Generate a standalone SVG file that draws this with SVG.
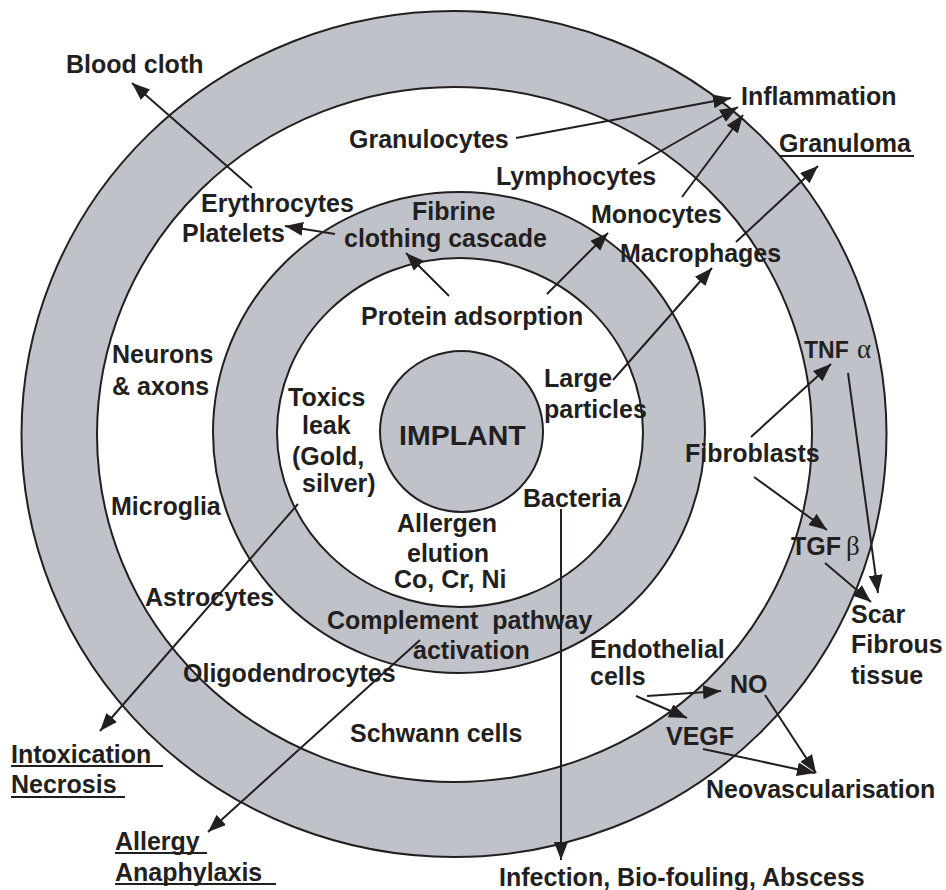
<svg xmlns="http://www.w3.org/2000/svg" width="946" height="890" viewBox="0 0 946 890">
<style>
.t{font-family:"Liberation Sans",Arial,sans-serif;font-weight:bold;font-size:25px;fill:#231f20}
.g{font-family:"Liberation Serif","Times New Roman",serif;font-size:27px;fill:#231f20}
.ring{fill:#c0c2c9;stroke:#231f20;stroke-width:2}
.hole{fill:#ffffff;stroke:#231f20;stroke-width:2}
.a{stroke:#231f20;stroke-width:2;fill:none;marker-end:url(#ah)}
.u{stroke:#231f20;stroke-width:2}
</style>
<defs>
<marker id="ah" markerUnits="userSpaceOnUse" markerWidth="20" markerHeight="16" refX="18" refY="7" orient="auto">
<path d="M0,0 L18,7 L0,14 Z" fill="#231f20"/>
</marker>
</defs>
<rect width="946" height="890" fill="#ffffff"/>
<g id="rings">
<ellipse id="outer-ring" class="ring" cx="454" cy="434" rx="432.5" ry="423"/>
<ellipse class="hole" cx="454.5" cy="434.5" rx="357.5" ry="347.5"/>
<ellipse id="middle-ring" class="ring" cx="459" cy="432.5" rx="246" ry="240.5"/>
<ellipse class="hole" cx="460" cy="432.5" rx="183" ry="174.5"/>
</g>
<g id="implant">
<ellipse class="ring" cx="461.5" cy="431.5" rx="81.5" ry="80.5"/>
<text class="t" x="399" y="445" style="font-size:28.5px">IMPLANT</text>
</g>
<g id="connectors">
<line class="a" x1="252" y1="188" x2="132" y2="83"/>
<line class="a" x1="335" y1="234" x2="285" y2="226"/>
<line class="a" x1="449" y1="296" x2="406" y2="253"/>
<line class="a" x1="516" y1="138" x2="731" y2="98"/>
<line class="a" x1="638" y1="164" x2="738" y2="107"/>
<line class="a" x1="682" y1="197" x2="743" y2="115"/>
<line class="a" x1="736" y1="242" x2="818" y2="166"/>
<line class="a" x1="547" y1="294" x2="608" y2="233"/>
<line class="a" x1="613" y1="380" x2="712" y2="268"/>
<line class="a" x1="751" y1="437" x2="831" y2="364"/>
<line class="a" x1="754" y1="477" x2="827" y2="530"/>
<line class="a" x1="848" y1="373" x2="878" y2="593"/>
<line class="a" x1="825" y1="563" x2="871" y2="602"/>
<line class="a" x1="561" y1="509" x2="561" y2="860"/>
<line class="a" x1="298" y1="504" x2="100" y2="731"/>
<line class="a" x1="420" y1="640" x2="208" y2="832"/>
<line class="a" x1="647" y1="696" x2="721" y2="691"/>
<line class="a" x1="636" y1="696" x2="687" y2="718"/>
<line class="a" x1="765" y1="695" x2="816" y2="773"/>
<line class="a" x1="703" y1="749" x2="815" y2="773"/>
</g>
<g id="outcomes">
<text class="t" x="66" y="73">Blood cloth</text>
<text class="t" x="741" y="105">Inflammation</text>
<text class="t" x="779" y="152">Granuloma</text>
<line class="u" x1="779" y1="156" x2="914" y2="156"/>
<text class="t" x="851" y="623">Scar</text>
<text class="t" x="851" y="653">Fibrous</text>
<text class="t" x="851" y="684">tissue</text>
<text class="t" x="706" y="798">Neovascularisation</text>
<text class="t" x="499" y="886">Infection, Bio-fouling, Abscess</text>
<text class="t" x="11" y="763">Intoxication</text>
<line class="u" x1="11" y1="766" x2="163" y2="766"/>
<text class="t" x="11" y="793">Necrosis</text>
<line class="u" x1="11" y1="797" x2="125" y2="797"/>
<text class="t" x="115" y="850">Allergy</text>
<line class="u" x1="115" y1="853" x2="207" y2="853"/>
<text class="t" x="115" y="881">Anaphylaxis</text>
<line class="u" x1="115" y1="884" x2="276" y2="884"/>
</g>
<g id="outer-zone">
<text class="t" x="349" y="148">Granulocytes</text>
<text class="t" x="496" y="185">Lymphocytes</text>
<text class="t" x="591" y="223">Monocytes</text>
<text class="t" x="620" y="262">Macrophages</text>
<text class="t" x="201" y="212">Erythrocytes</text>
<text class="t" x="182" y="242">Platelets</text>
<text class="t" x="112" y="363">Neurons</text>
<text class="t" x="112" y="395">&amp; axons</text>
<text class="t" x="111" y="515">Microglia</text>
<text class="t" x="145" y="606">Astrocytes</text>
<text class="t" x="183" y="682">Oligodendrocytes</text>
<text class="t" x="350" y="742">Schwann cells</text>
<text class="t" x="685" y="462">Fibroblasts</text>
<text class="t" x="804" y="358" style="font-size:23px">TNF</text><text class="g" x="857" y="358">α</text>
<text class="t" x="791" y="555">TGF</text><text class="g" x="846" y="555">β</text>
<text class="t" x="590" y="658">Endothelial</text>
<text class="t" x="590" y="685">cells</text>
<text class="t" x="730" y="693">NO</text>
<text class="t" x="666" y="745">VEGF</text>
</g>
<g id="middle-zone">
<text class="t" x="412" y="220">Fibrine</text>
<text class="t" x="344" y="247">clothing cascade</text>
<text class="t" x="327" y="629" xml:space="preserve">Complement  pathway</text>
<text class="t" x="413" y="659">activation</text>
</g>
<g id="inner-zone">
<text class="t" x="361" y="325">Protein adsorption</text>
<text class="t" x="288" y="406">Toxics</text>
<text class="t" x="302" y="434">leak</text>
<text class="t" x="292" y="465">(Gold,</text>
<text class="t" x="302" y="492">silver)</text>
<text class="t" x="544" y="387">Large</text>
<text class="t" x="544" y="418">particles</text>
<text class="t" x="523" y="507">Bacteria</text>
<text class="t" x="397" y="532">Allergen</text>
<text class="t" x="407" y="562">elution</text>
<text class="t" x="394" y="588">Co, Cr, Ni</text>
</g>
</svg>
